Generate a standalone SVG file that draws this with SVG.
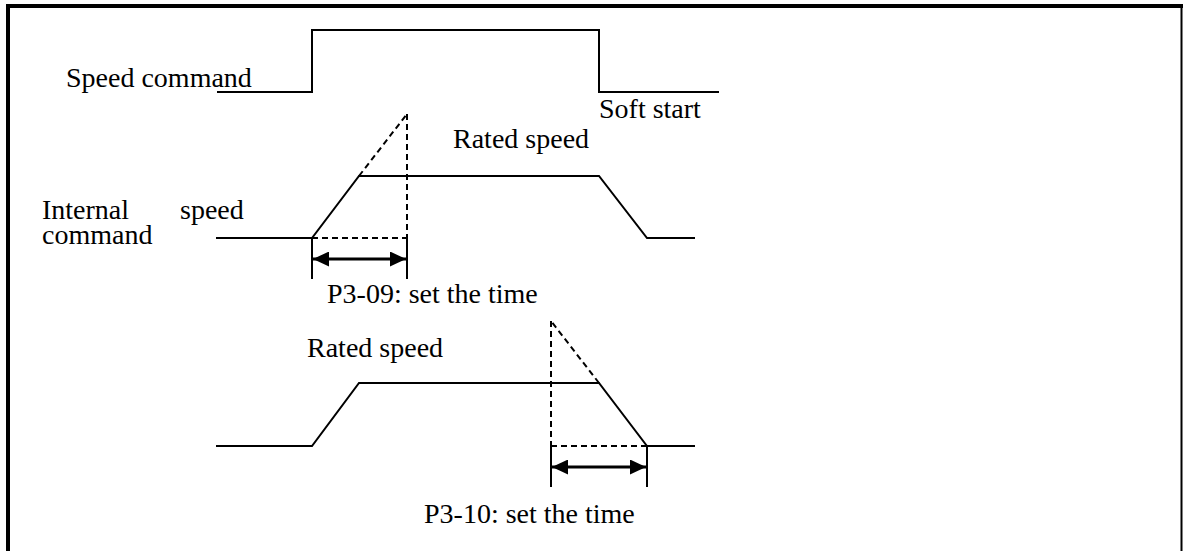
<svg xmlns="http://www.w3.org/2000/svg" width="1183" height="551" viewBox="0 0 1183 551">
<style>
.t{font-family:"Liberation Serif","Times New Roman",serif;font-size:28px;fill:#000}
.s{fill:none;stroke:#000;stroke-width:2}
.d{fill:none;stroke:#000;stroke-width:2;stroke-dasharray:6 4}
.a{fill:none;stroke:#000;stroke-width:3;marker-start:url(#ah);marker-end:url(#ah)}
</style>
<defs>
<marker id="ah" viewBox="0 0 16 15" refX="16" refY="7.5" markerWidth="16" markerHeight="15" markerUnits="userSpaceOnUse" orient="auto-start-reverse">
<path d="M0,0 L16,7.5 L0,15 Z" fill="#000"/>
</marker>
</defs>
<rect width="1183" height="551" fill="#fff"/>
<g id="frame">
<line x1="6" y1="6" x2="1183" y2="6" stroke="#000" stroke-width="4"/>
<line x1="8" y1="4" x2="8" y2="551" stroke="#000" stroke-width="4"/>
<line x1="1181.5" y1="5" x2="1181.5" y2="551" stroke="#000" stroke-width="2"/>
</g>
<g id="speed-command">
<polyline class="s" points="217,92 312,92 312,30 599,30 599,92 719,92"/>
<text class="t" x="66" y="87">Speed command</text>
<text class="t" x="599" y="118">Soft start</text>
</g>
<g id="internal-speed">
<text class="t" x="42" y="219">Internal</text>
<text class="t" x="180" y="219">speed</text>
<text class="t" x="42" y="244">command</text>
<text class="t" x="453" y="148">Rated speed</text>
<polyline class="s" points="216,238 312,238 359,176 599,176 647,238 695,238"/>
</g>
<g id="decel-wave">
<text class="t" x="307" y="357">Rated speed</text>
<polyline class="s" points="216,446 312,446 359,383 599,383 647,446 695,446"/>
</g>
<g id="connectors">
<line class="d" x1="359" y1="176" x2="407" y2="114"/>
<line class="d" x1="407" y1="114" x2="407" y2="238"/>
<line class="d" x1="312" y1="238" x2="407" y2="238"/>
<line class="s" x1="312" y1="238" x2="312" y2="279"/>
<line class="s" x1="407" y1="238" x2="407" y2="279"/>
<line class="a" x1="313" y1="259" x2="406" y2="259"/>
<line class="d" x1="599" y1="383" x2="551" y2="321"/>
<line class="d" x1="551" y1="321" x2="551" y2="446"/>
<line class="d" x1="551" y1="446" x2="647" y2="446"/>
<line class="s" x1="551" y1="446" x2="551" y2="487"/>
<line class="s" x1="647" y1="446" x2="647" y2="487"/>
<line class="a" x1="552" y1="467" x2="646" y2="467"/>
</g>
<g id="labels">
<text class="t" x="327" y="303">P3-09: set the time</text>
<text class="t" x="424" y="523">P3-10: set the time</text>
</g>
</svg>
